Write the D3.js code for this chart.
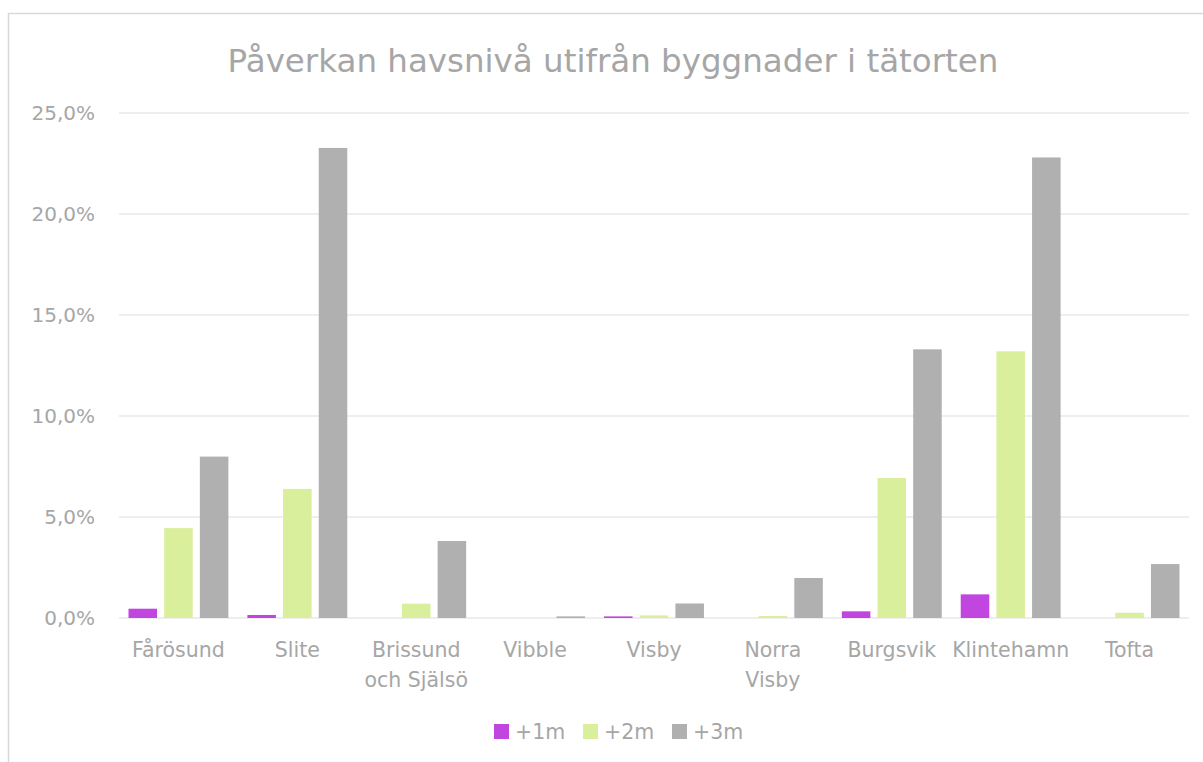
<!DOCTYPE html>
<html>
    <head>
        <meta charset="utf-8">
        <title>Påverkan havsnivå</title>
        <script src="https://cdnjs.cloudflare.com/ajax/libs/d3/7.8.5/d3.min.js"></script>
        <style>
            body { margin: 0; background: #fff; }
            text { font-family: "DejaVu Sans", Verdana, sans-serif; fill: #a6a6a6; }
        </style>
    </head>
    <body>
        <script type="text/javascript">

            // Data (percent of buildings)
            var categories = ["Fårösund", "Slite", "Brissund\noch Själsö", "Vibble", "Visby",
                              "Norra\nVisby", "Burgsvik", "Klintehamn", "Tofta"];
            var series = ["+1m", "+2m", "+3m"];
            var plus1 = [0.46, 0.15, 0, 0, 0.08, 0, 0.33, 1.17, 0];
            var plus2 = [4.45, 6.39, 0.71, 0, 0.13, 0.10, 6.93, 13.2, 0.26];
            var plus3 = [7.99, 23.27, 3.81, 0.08, 0.72, 1.98, 13.3, 22.8, 2.67];
            var yTicks = [0, 5, 10, 15, 20, 25];
            var colors = ["#c145df", "#d9ef9c", "#b0b0b0"];

            var width = 1203;
            var height = 762;

            // Plot area
            var plotLeft = 119, plotRight = 1189, plotTop = 113, plotBottom = 618;

            var svg = d3.select("body")
                        .append("svg")
                        .attr("width", width)
                        .attr("height", height);

            // Chart frame (only top and left edges visible)
            svg.append("path")
               .attr("d", "M8.5," + height + "V13.5H" + width)
               .attr("fill", "none")
               .attr("stroke", "#d9d9d9")
               .attr("stroke-width", 1.5);

            // Title
            svg.append("text")
               .attr("x", 613)
               .attr("y", 72)
               .attr("text-anchor", "middle")
               .style("font-size", "32.5px")
               .text("Påverkan havsnivå utifrån byggnader i tätorten");

            var values = [plus1, plus2, plus3];

            var x0 = d3.scaleBand()
                       .domain(categories)
                       .range([plotLeft, plotRight]);

            var x1 = d3.scaleBand()
                       .domain(series)
                       .range([9.5, x0.bandwidth() - 9.5])
                       .paddingInner(0.2);

            var y = d3.scaleLinear()
                      .domain([0, 25])
                      .range([plotBottom, plotTop]);

            // Gridlines
            svg.append("g")
               .selectAll("line")
               .data(yTicks)
               .enter()
               .append("line")
               .attr("x1", plotLeft)
               .attr("x2", plotRight)
               .attr("y1", function(d) { return y(d); })
               .attr("y2", function(d) { return y(d); })
               .attr("stroke", "#e8e8e8")
               .attr("stroke-width", 1.5);

            // Y axis labels
            var yAxis = svg.append("g")
                           .attr("transform", "translate(" + (plotLeft - 8) + ",0)")
                           .call(d3.axisLeft(y)
                                   .tickValues(yTicks)
                                   .tickSize(0)
                                   .tickPadding(16)
                                   .tickFormat(function(d) { return d3.format(".1f")(d).replace(".", ",") + "%"; }));
            yAxis.select(".domain").remove();
            yAxis.selectAll("text")
                 .style("font-size", "20px")
                 .attr("fill", "#a6a6a6");

            // Bars
            var groups = svg.append("g")
                            .selectAll("g")
                            .data(categories)
                            .enter()
                            .append("g")
                            .attr("transform", function(d) { return "translate(" + x0(d) + ",0)"; });

            groups.selectAll("rect")
                  .data(function(d, i) {
                      return series.map(function(s, j) { return {s: s, v: values[j][i], c: colors[j]}; });
                  })
                  .enter()
                  .append("rect")
                  .attr("x", function(d) { return x1(d.s); })
                  .attr("width", x1.bandwidth())
                  .attr("y", function(d) { return y(d.v); })
                  .attr("height", function(d) { return plotBottom - y(d.v); })
                  .attr("fill", function(d) { return d.c; });

            // Category labels
            var xLabels = svg.append("g")
                             .selectAll("text")
                             .data(categories)
                             .enter()
                             .append("text")
                             .attr("x", function(d) { return x0(d) + x0.bandwidth() / 2; })
                             .attr("y", 657)
                             .attr("text-anchor", "middle")
                             .style("font-size", "20.5px");

            xLabels.selectAll("tspan")
                   .data(function(d) { return d.split("\n"); })
                   .enter()
                   .append("tspan")
                   .attr("x", function() { return this.parentNode.getAttribute("x"); })
                   .attr("dy", function(d, i) { return i === 0 ? 0 : 30; })
                   .text(function(d) { return d; });

            // Legend
            var legendX = [494, 583, 672];
            var legend = svg.append("g")
                            .selectAll("g")
                            .data(series)
                            .enter()
                            .append("g")
                            .attr("transform", function(d, i) { return "translate(" + legendX[i] + ",724)"; });

            legend.append("rect")
                  .attr("width", 15)
                  .attr("height", 15)
                  .attr("fill", function(d, i) { return colors[i]; });

            legend.append("text")
                  .attr("x", 21)
                  .attr("y", 15)
                  .style("font-size", "20.5px")
                  .text(function(d) { return d; });

        </script>
    </body>
</html>
